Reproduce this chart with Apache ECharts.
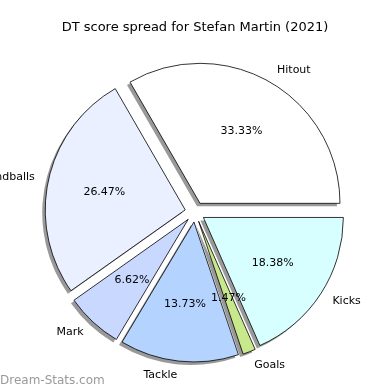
<!DOCTYPE html>
<html><head><meta charset="utf-8">
<script src="https://cdn.jsdelivr.net/npm/echarts@6/dist/echarts.min.js"></script>
<style>html,body{margin:0;padding:0;background:#fff}#c{width:390px;height:390px}</style>
</head><body><div id="c"></div>
<script>
const categories = ['Hitout', 'Handballs', 'Mark', 'Tackle', 'Goals', 'Kicks'];
const values = [136, 108, 27, 56, 6, 75];
const colors = ['#ffffff', '#eaf0ff', '#c8d8ff', '#b4d4ff', '#c8e88c', '#d8ffff'];
const titleText = 'DT score spread for Stefan Martin (2021)';
const watermark = 'Dream-Stats.com';

const total = values.reduce((a, b) => a + b, 0);
const R = 140, CX = 195, CY = 212, OFF = 10;
const font = 'DejaVu Sans';

const mainData = categories.map((n, i) => ({
  name: n, value: values[i], selected: true,
  itemStyle: { color: colors[i] }
}));
const plainData = categories.map((n, i) => ({
  name: n, value: values[i], selected: true
}));

const common = {
  type: 'pie', silent: true,
  startAngle: 0, clockwise: false,
  selectedMode: 'multiple', selectedOffset: OFF,
  avoidLabelOverlap: false,
  emphasis: { disabled: true }
};

const chart = echarts.init(document.getElementById('c'), null, { renderer: 'canvas' });
chart.setOption({
  animation: false,
  title: {
    text: titleText, left: 'center', top: 16,
    textStyle: { fontFamily: font, fontSize: 13, fontWeight: 'normal', color: '#000' }
  },
  graphic: [{
    type: 'text', left: 0, bottom: 3,
    style: { text: watermark, fontFamily: font, fontSize: 12, fontWeight: 'normal', fill: '#9a9a9a' }
  }],
  series: [
    Object.assign({}, common, {
      z: 1,
      center: [CX - 3, CY + 3], radius: [0, R],
      itemStyle: { color: 'rgba(70,70,70,0.55)', borderWidth: 0 },
      label: { show: false }, labelLine: { show: false },
      data: plainData
    }),
    Object.assign({}, common, {
      z: 2,
      center: [CX, CY], radius: [0, R],
      itemStyle: { borderColor: '#000', borderWidth: 0.8 },
      label: {
        show: true, position: 'outside', formatter: '{b}',
        fontFamily: font, fontSize: 11, color: '#000', distanceToLabelLine: 0
      },
      labelLine: { show: false, length: R * 0.1, length2: 0 },
      data: mainData
    }),
    Object.assign({}, common, {
      z: 3,
      center: [CX, CY], radius: [R * 0.14, R],
      itemStyle: { color: 'rgba(0,0,0,0)', borderWidth: 0 },
      label: {
        show: true, position: 'inside',
        formatter: p => (p.value / total * 100).toFixed(2) + '%',
        fontFamily: font, fontSize: 11, color: '#000'
      },
      labelLine: { show: false },
      data: plainData
    })
  ]
});
</script></body></html>
